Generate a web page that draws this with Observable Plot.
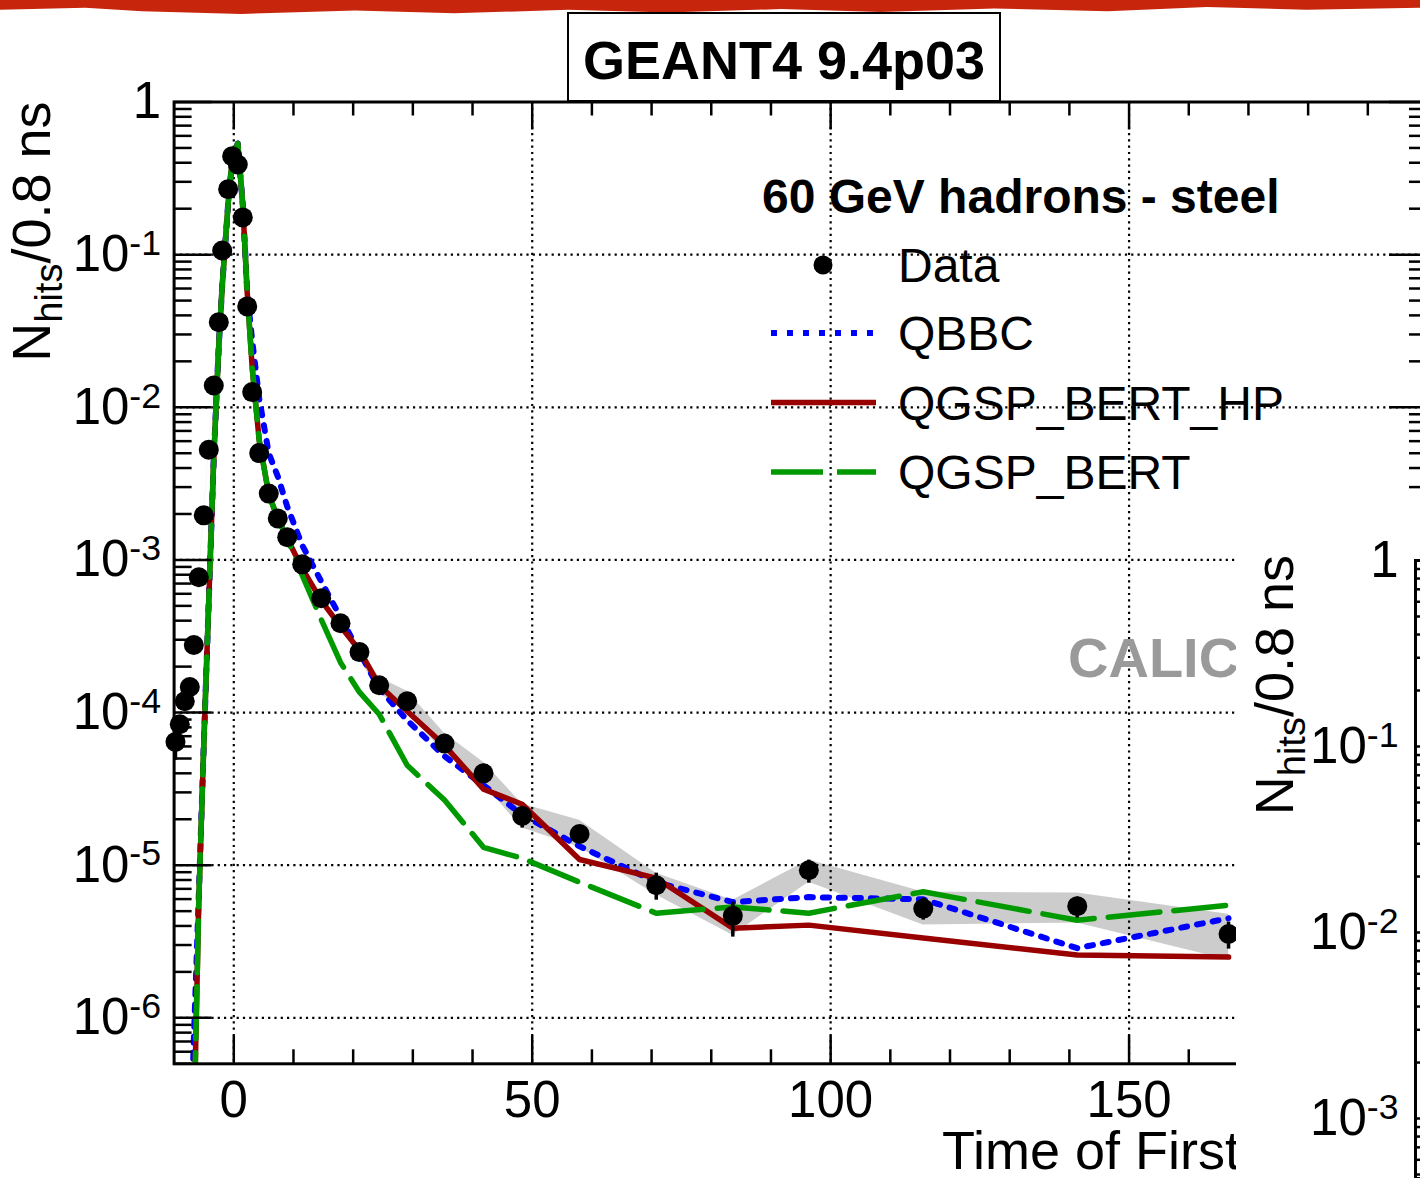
<!DOCTYPE html>
<html><head><meta charset="utf-8">
<script src="https://cdn.jsdelivr.net/npm/d3@7"></script>
<script src="https://cdn.jsdelivr.net/npm/@observablehq/plot@0.6"></script>
<style>
html,body{margin:0;padding:0;background:#fff;}
#wrap{position:relative;width:1420px;height:1178px;overflow:hidden;font-family:"Liberation Sans",Arial,Helvetica,sans-serif;}
#brush{position:absolute;left:0;top:0;width:1420px;height:14px;background:#c8260c;
 clip-path:polygon(0 0,100% 0,100% 55%,92% 70%,85% 50%,78% 80%,70% 60%,62% 85%,55% 65%,47% 90%,40% 70%,32% 95%,25% 75%,17% 100%,10% 80%,6% 55%,0 70%);}
#titlebox{position:absolute;left:567px;top:12px;width:430px;height:86px;border:2px solid #000;background:#fff;
 font-weight:bold;font-size:54px;text-align:center;line-height:92px;color:#000;}
#inset{position:absolute;left:1236px;top:500px;width:184px;height:678px;background:#fff;}
</style></head><body><div id="wrap"><div id="brush"></div></div>
<script>
// ---- data ----
const time = [-9.77,-9.05,-8.21,-7.37,-6.70,-5.86,-5.03,-4.19,-3.35,-2.51,-1.94,-0.94,-0.27,0.67,1.51,2.25,3.08,4.26,5.86,7.37,8.95,11.46,14.64,17.88,21.06,24.36,29.05,35.30,41.84,48.32,57.93,70.78,83.61,96.35,115.52,141.32,166.67];
const dataVal = [6.42e-5,8.38e-5,1.186e-4,1.47e-4,2.77e-4,7.7e-4,1.96e-3,5.27e-3,1.39e-2,3.61e-2,0.1065,0.2685,0.4417,0.3896,0.1753,0.0458,0.01258,5.01e-3,2.72e-3,1.87e-3,1.41e-3,9.36e-4,5.61e-4,3.85e-4,2.49e-4,1.51e-4,1.186e-4,6.27e-5,4.0e-5,2.10e-5,1.60e-5,7.39e-6,4.66e-6,9.27e-6,5.2e-6,5.39e-6,3.54e-6];
const bandLo = [6.32e-5,8.25e-5,1.168e-4,1.448e-4,2.73e-4,7.58e-4,1.93e-3,5.19e-3,1.37e-2,3.56e-2,0.1049,0.2645,0.435,0.384,0.1727,0.0451,0.01239,4.93e-3,2.68e-3,1.84e-3,1.39e-3,9.2e-4,5.5e-4,3.76e-4,2.28e-4,1.34e-4,1.02e-4,5.41e-5,3.39e-5,1.75e-5,1.31e-5,6.37e-6,3.48e-6,7.74e-6,4.06e-6,4.18e-6,2.39e-6];
const bandHi = [6.52e-5,8.51e-5,1.204e-4,1.492e-4,2.81e-4,7.82e-4,1.99e-3,5.35e-3,1.41e-2,3.66e-2,0.1081,0.2725,0.448,0.395,0.1779,0.0465,0.01277,5.09e-3,2.76e-3,1.90e-3,1.43e-3,9.5e-4,5.72e-4,3.94e-4,2.73e-4,1.70e-4,1.38e-4,7.31e-5,4.72e-5,2.52e-5,1.97e-5,8.87e-6,5.9e-6,1.08e-5,6.67e-6,6.57e-6,4.78e-6];
const errLo = [4.88e-5,null,null,null,null,null,null,null,null,null,null,null,null,null,null,null,null,null,null,null,null,null,null,null,null,null,null,5.5e-5,3.5e-5,1.75e-5,1.42e-5,5.9e-6,3.38e-6,7.62e-6,4.37e-6,4.5e-6,2.82e-6];
const errHi = [7.66e-5,null,null,null,null,null,null,null,null,null,null,null,null,null,null,null,null,null,null,null,null,null,null,null,null,null,null,7.2e-5,4.58e-5,2.41e-5,1.80e-5,8.87e-6,5.73e-6,1.08e-5,6.08e-6,6.18e-6,4.24e-6];
const qbbc = [null,null,null,1e-7,7.1e-7,6.37e-6,6.1e-5,5.43e-4,4.7e-3,0.0254,0.0628,0.216,0.414,0.535,0.210,0.0565,0.0274,0.01143,4.99e-3,3.53e-3,2.24e-3,1.25e-3,7.24e-4,4.21e-4,2.48e-4,1.44e-4,8.9e-5,5.18e-5,3.34e-5,2.14e-5,1.33e-5,7.74e-6,5.73e-6,6.18e-6,5.98e-6,2.86e-6,4.49e-6];
const qgspBertHP = [null,null,null,1e-7,1.7e-7,5.9e-6,6.1e-5,5.43e-4,4.7e-3,0.0254,0.0628,0.216,0.414,0.535,0.210,0.0565,0.01825,6.07e-3,2.69e-3,1.87e-3,1.38e-3,8.81e-4,5.43e-4,3.67e-4,2.56e-4,1.51e-4,1.02e-4,6.1e-5,3.15e-5,2.51e-5,1.09e-5,8.22e-6,3.87e-6,4.05e-6,3.33e-6,2.58e-6,2.5e-6];
const qgspBert = [null,null,null,1e-7,1.7e-7,5.9e-6,6.1e-5,5.43e-4,4.7e-3,0.0254,0.0628,0.216,0.414,0.535,0.210,0.0565,0.01825,6.07e-3,2.69e-3,1.87e-3,1.38e-3,7.93e-4,4.08e-4,2.13e-4,1.36e-4,9.75e-5,4.52e-5,2.67e-5,1.31e-5,1.11e-5,7.74e-6,4.85e-6,5.33e-6,4.85e-6,6.7e-6,4.36e-6,5.47e-6];
const seriesNames = ["Data","QBBC","QGSP_BERT_HP","QGSP_BERT"];
const xTickValues = [0,50,100,150];
const yTickValues = [1,1e-1,1e-2,1e-3,1e-4,1e-5,1e-6];
const insetTickValues = [1,1e-1,1e-2,1e-3];

// ---- layout ----
const W = 1420, H = 1178;
const X0 = 173.6, X1 = 1427, Y0 = 101.5, Y1 = 1063.3;
const fw = X1 - X0, fh = Y1 - Y0;
const FONT = '"Liberation Sans", Arial, Helvetica, sans-serif';
const C = {qbbc:"#0000ff", hp:"#990000", bert:"#009900", band:"#cccccc"};

const rows = time.map((t,i)=>({t, v:dataVal[i], lo:bandLo[i], hi:bandHi[i], elo:errLo[i], ehi:errHi[i], qbbc:qbbc[i], hp:qgspBertHP[i], bert:qgspBert[i]}));
const errRows = rows.filter(d=>d.elo!=null);
const xMajor = [0,50,100,150,200];
const xMinor = d3.range(-10,201,10).filter(v=>v%50!==0 && v>-10);
const yMinor = [];
for (let e=-7;e<0;e++) for (let k=2;k<=9;k++){ const v=k*Math.pow(10,e); if (v>=5e-7 && v<=1) yMinor.push(v); }
const fmt = d => d===1 ? "1" : "10^" + Math.round(Math.log10(d));

const dotted = {stroke:"#000", strokeWidth:2.2, strokeDasharray:"2.2,4.1"};

const main = Plot.plot({
  width: W, height: H,
  marginLeft: X0, marginRight: W - X1, marginTop: Y0, marginBottom: H - Y1,
  x: {domain:[-10,200], range:[X0,X1]},
  y: {type:"log", domain:[5e-7,1], range:[Y1,Y0]},
  style: {fontFamily: FONT, fontSize:"51px", background:"transparent", color:"#000"},
  marks: [
    Plot.areaY(rows, {x:"t", y1:"lo", y2:"hi", fill:C.band, clip:true}),
    Plot.ruleX(xTickValues, {x:d=>d, ...dotted}),
    Plot.ruleY(yTickValues.filter(v=>v<1), {y:d=>d, ...dotted}),
    Plot.line(rows, {x:"t", y:"qbbc", stroke:C.qbbc, strokeWidth:6, strokeDasharray:"6,10", clip:true}),
    Plot.line(rows, {x:"t", y:"hp", stroke:C.hp, strokeWidth:5.5, clip:true}),
    Plot.line(rows, {x:"t", y:"bert", stroke:C.bert, strokeWidth:5.5, strokeDasharray:"52,14", clip:true}),
    Plot.ruleX(errRows, {x:"t", y1:"elo", y2:"ehi", stroke:"#000", strokeWidth:3.5}),
    Plot.dot(rows, {x:"t", y:"v", r:10, fill:"#000", stroke:"none"}),
    // inward ticks (ROOT style)
    Plot.ruleX(xMinor, {x:d=>d, insetTop: fh-14, strokeWidth:2.5}),
    Plot.ruleX(xMajor, {x:d=>d, insetTop: fh-28, strokeWidth:2.5}),
    Plot.ruleX(xMinor, {x:d=>d, insetBottom: fh-14, strokeWidth:2.5}),
    Plot.ruleX(xMajor, {x:d=>d, insetBottom: fh-28, strokeWidth:2.5}),
    Plot.ruleY(yMinor, {y:d=>d, insetRight: fw-18, strokeWidth:2.5}),
    Plot.ruleY(yTickValues, {y:d=>d, insetRight: fw-38, strokeWidth:2.5}),
    Plot.ruleY(yMinor, {y:d=>d, insetLeft: fw-18, strokeWidth:2.5}),
    Plot.ruleY(yTickValues, {y:d=>d, insetLeft: fw-38, strokeWidth:2.5}),
    Plot.frame({stroke:"#000", strokeWidth:3}),
    Plot.axisX({ticks:xTickValues, tickSize:0, tickPadding:17, label:null}),
    Plot.axisY({ticks:yTickValues, tickSize:0, tickPadding:13, tickFormat:fmt, label:null})
  ]
});
main.style.position = "absolute"; main.style.left = "0px"; main.style.top = "0px";
const wrap = document.getElementById("wrap");
wrap.insertBefore(main, wrap.firstChild);

function supLabels(svgNode){
  d3.select(svgNode).selectAll('g[aria-label="y-axis tick label"] text').each(function(){
    const s = this.textContent;
    if (s.includes("^")) {
      const [b,e] = s.split("^");
      const el = d3.select(this); el.text(null);
      el.append("tspan").text(b);
      el.append("tspan").attr("dy","-0.45em").style("font-size","0.7em").text(e);
    }
  });
}
supLabels(main);

const svg = d3.select(main);
// axis titles
function yTitle(sel, x, y){
  const t = sel.append("text").attr("transform",`translate(${x},${y}) rotate(-90)`).attr("text-anchor","end").style("font-size","54px");
  t.append("tspan").text("N");
  t.append("tspan").attr("dy",12).style("font-size","38px").text("hits");
  t.append("tspan").attr("dy",-12).text("/0.8 ns");
}
yTitle(svg, 50, Y0);
svg.append("text").attr("x",942).attr("y",1169).attr("text-anchor","start").style("font-size","54px").text("Time of First Hit [ns]");
svg.append("text").attr("x",1068).attr("y",677).attr("text-anchor","start").style("font-size","56px").style("font-weight","bold").attr("fill","#9a9a9a").text("CALICE");

// legend
const lg = svg.append("g").attr("text-anchor","start");
lg.append("text").attr("x",762).attr("y",213).style("font-size","48px").style("font-weight","bold").text("60 GeV hadrons - steel");
const items = [
  {name:seriesNames[0], y:265, kind:"dot"},
  {name:seriesNames[1], y:333, kind:"line", stroke:C.qbbc, dash:"6,10", w:6},
  {name:seriesNames[2], y:402.5, kind:"line", stroke:C.hp, dash:null, w:5.5},
  {name:seriesNames[3], y:472, kind:"line", stroke:C.bert, dash:"52,14", w:5.5}
];
items.forEach(it=>{
  if (it.kind==="dot") lg.append("circle").attr("cx",823).attr("cy",it.y).attr("r",9.5).attr("fill","#000");
  else lg.append("line").attr("x1",771).attr("x2",876).attr("y1",it.y).attr("y2",it.y).attr("stroke",it.stroke).attr("stroke-width",it.w).attr("stroke-dasharray",it.dash);
  lg.append("text").attr("x",898).attr("y",it.y+17).style("font-size","48px").text(it.name);
});

// title box
const tb = document.createElement("div"); tb.id="titlebox"; tb.textContent="GEANT4 9.4p03"; wrap.appendChild(tb);

// inset (second pad, partly visible)
const insetDiv = document.createElement("div"); insetDiv.id="inset"; wrap.appendChild(insetDiv);
const iw = 184, ih = 678, iL = 179, iT = 60, iR = 300;
const insetMinor = [];
for (let e=-4;e<0;e++) for (let k=2;k<=9;k++){ const v=k*Math.pow(10,e); if (v>=4.76e-4) insetMinor.push(v); }
const inset = Plot.plot({
  width: iw, height: ih,
  marginLeft: iL, marginRight: iw - iR, marginTop: iT, marginBottom: 0,
  x: {domain:[0,1], range:[iL,iR]},
  y: {type:"log", domain:[4.76e-4,1], range:[ih,iT]},
  style: {fontFamily: FONT, fontSize:"51px", background:"transparent", color:"#000"},
  marks: [
    Plot.ruleY(insetMinor, {y:d=>d, insetRight:(iR-iL)-18, strokeWidth:2.5}),
    Plot.ruleY(insetTickValues, {y:d=>d, insetRight:(iR-iL)-38, strokeWidth:2.5}),
    Plot.frame({stroke:"#000", strokeWidth:3}),
    Plot.axisY({ticks:insetTickValues, tickSize:0, tickPadding:17, tickFormat:fmt, label:null})
  ]
});
supLabels(inset);
yTitle(d3.select(inset), 57, 55);
insetDiv.appendChild(inset);
</script>
</body></html>
